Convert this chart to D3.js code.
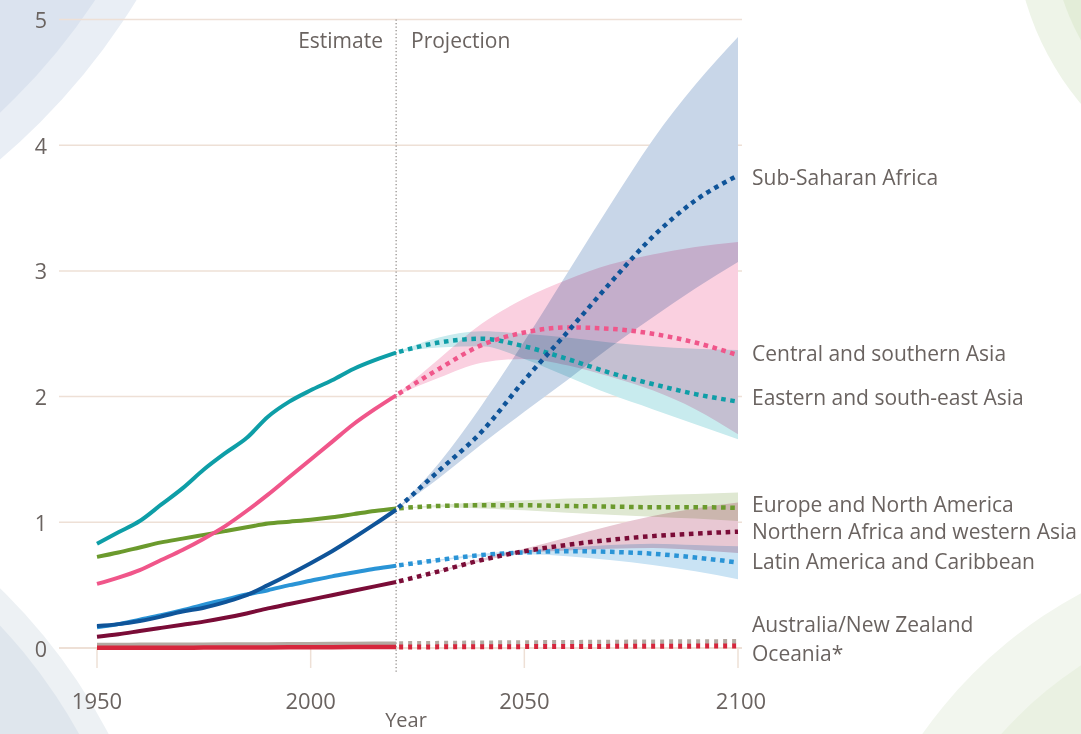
<!DOCTYPE html>
<html>
<head>
<meta charset="utf-8">
<script src="https://cdn.jsdelivr.net/npm/d3@7"></script>
<style>
  html, body { margin: 0; padding: 0; background: #ffffff; }
  svg { display: block; }
  text { font-family: "Open Sans", "DejaVu Sans", sans-serif; fill: #6a6360; }
  .band { mix-blend-mode: multiply; }
</style>
</head>
<body>
<svg id="chart" width="1081" height="734"></svg>
<script>
// ---------------- DATA ----------------
const yearsHist = [1950,1955,1960,1965,1970,1975,1980,1985,1990,1995,2000,2005,2010,2015,2020];
const yearsProj = [2020,2030,2040,2050,2060,2070,2080,2090,2100];
const xTicks = [1950, 2000, 2050, 2100];
const yTicks = [0, 1, 2, 3, 4, 5];
const splitYear = 2020;

const regionNames = [
  "Sub-Saharan Africa",
  "Central and southern Asia",
  "Eastern and south-east Asia",
  "Europe and North America",
  "Northern Africa and western Asia",
  "Latin America and Caribbean",
  "Australia/New Zealand",
  "Oceania*"
];

// population, billions (estimates)
const histSSA   = [0.175,0.19,0.215,0.25,0.29,0.32,0.365,0.42,0.50,0.585,0.675,0.77,0.875,0.985,1.10];
const histCSA   = [0.51,0.56,0.62,0.70,0.78,0.87,0.97,1.09,1.22,1.36,1.50,1.64,1.78,1.90,2.01];
const histESEA  = [0.83,0.92,1.01,1.14,1.27,1.42,1.55,1.67,1.84,1.96,2.05,2.13,2.22,2.29,2.35];
const histEUNA  = [0.725,0.76,0.80,0.84,0.87,0.90,0.93,0.96,0.99,1.005,1.02,1.04,1.065,1.09,1.11];
const histNAWA  = [0.09,0.11,0.135,0.16,0.185,0.21,0.24,0.275,0.315,0.35,0.385,0.42,0.455,0.49,0.525];
const histLAC   = [0.165,0.19,0.225,0.26,0.30,0.345,0.385,0.425,0.46,0.50,0.535,0.57,0.60,0.63,0.655];
const histANZ   = [0.024,0.024,0.025,0.025,0.026,0.026,0.027,0.027,0.028,0.029,0.030,0.031,0.032,0.033,0.034];
const histOCE   = [0.001,0.001,0.002,0.002,0.002,0.003,0.003,0.004,0.004,0.005,0.005,0.006,0.007,0.007,0.008];

// projections (median), billions
const projSSA   = [1.10,1.41,1.72,2.13,2.51,2.90,3.27,3.56,3.76];
const projCSA   = [2.01,2.22,2.41,2.51,2.55,2.54,2.50,2.43,2.33];
const projESEA  = [2.35,2.43,2.46,2.40,2.30,2.19,2.10,2.02,1.96];
const projEUNA  = [1.11,1.13,1.135,1.135,1.13,1.125,1.12,1.12,1.115];
const projNAWA  = [0.525,0.61,0.70,0.77,0.82,0.86,0.89,0.91,0.925];
const projLAC   = [0.655,0.70,0.74,0.76,0.77,0.765,0.75,0.72,0.68];
const projANZ   = [0.034,0.037,0.040,0.042,0.044,0.046,0.048,0.050,0.051];
const projOCE   = [0.008,0.009,0.010,0.011,0.012,0.013,0.014,0.015,0.016];

// prediction interval, upper / lower
const upSSA  = [1.10,1.47,1.93,2.44,2.98,3.52,4.04,4.48,4.86];
const loSSA  = [1.10,1.35,1.62,1.88,2.13,2.39,2.63,2.86,3.07];
const upCSA  = [2.01,2.30,2.58,2.78,2.93,3.05,3.13,3.19,3.23];
const loCSA  = [2.01,2.15,2.27,2.30,2.25,2.16,2.05,1.90,1.70];
const upESEA = [2.35,2.47,2.52,2.50,2.47,2.43,2.40,2.38,2.37];
const loESEA = [2.35,2.39,2.40,2.30,2.16,2.02,1.90,1.78,1.66];
const upEUNA = [1.11,1.14,1.16,1.175,1.19,1.20,1.215,1.225,1.237];
const loEUNA = [1.11,1.12,1.11,1.095,1.075,1.06,1.045,1.03,1.01];
const upNAWA = [0.525,0.615,0.71,0.79,0.88,0.97,1.05,1.11,1.157];
const loNAWA = [0.525,0.605,0.69,0.755,0.775,0.79,0.795,0.78,0.755];
const upLAC  = [0.655,0.705,0.75,0.775,0.80,0.82,0.83,0.82,0.81];
const loLAC  = [0.655,0.695,0.73,0.745,0.73,0.70,0.66,0.61,0.547];

// ---------------- STYLE ----------------
const lineColors = ["#0f5499","#f0568a","#0e9ea7","#6b9a2d","#7a0c37","#2a94d6","#b3a9a1","#d6263c"];
const bandColors = ["#c8d6e8","#fad0e0","#c8ebee","#dfe8d2","#e8c8d3","#c9e3f4"];
const labelY = [185, 361, 405, 511.5, 539, 569, 631.5, 660.5];

const series = [
  {hist: histSSA,  proj: projSSA,  up: upSSA,  lo: loSSA},
  {hist: histCSA,  proj: projCSA,  up: upCSA,  lo: loCSA},
  {hist: histESEA, proj: projESEA, up: upESEA, lo: loESEA},
  {hist: histEUNA, proj: projEUNA, up: upEUNA, lo: loEUNA},
  {hist: histNAWA, proj: projNAWA, up: upNAWA, lo: loNAWA},
  {hist: histLAC,  proj: projLAC,  up: upLAC,  lo: loLAC},
  {hist: histANZ,  proj: projANZ},
  {hist: histOCE,  proj: projOCE}
].map((s, i) => Object.assign(s, {name: regionNames[i], color: lineColors[i], band: bandColors[i], ly: labelY[i]}));

// ---------------- CHART ----------------
const svg = d3.select("#chart");
const W = 1081, H = 734;

// decorative background arcs
const bg = svg.append("g");
bg.append("rect").attr("width", W).attr("height", H).attr("fill", "#ffffff");
bg.append("circle").attr("cx", -429).attr("cy", -346).attr("r", 663).attr("fill", "#e9eef5");
bg.append("circle").attr("cx", -429).attr("cy", -346).attr("r", 628).attr("fill", "#dbe3ef");
bg.append("circle").attr("cx", -400).attr("cy", 1000).attr("r", 574).attr("fill", "#edf1f4");
bg.append("circle").attr("cx", -400).attr("cy", 1000).attr("r", 548).attr("fill", "#dfe6ed");
bg.append("circle").attr("cx", 1300).attr("cy", -80).attr("r", 286).attr("fill", "#eef4e8");
bg.append("circle").attr("cx", 1300).attr("cy", -80).attr("r", 250).attr("fill", "#e3edd8");
bg.append("circle").attr("cx", 1300).attr("cy", 1000).attr("r", 462).attr("fill", "#f2f6ee");
bg.append("circle").attr("cx", 1300).attr("cy", 1000).attr("r", 400).attr("fill", "#eaf1e2");

const x = d3.scaleLinear().domain([1950, 2100]).range([97, 738]);
const y = d3.scaleLinear().domain([0, 5]).range([648, 19.5]);

// gridlines
const grid = svg.append("g");
grid.selectAll("line.grid").data(yTicks).join("line")
  .attr("x1", 59).attr("x2", 742)
  .attr("y1", d => y(d)).attr("y2", d => y(d))
  .attr("stroke", "#eee0d6").attr("stroke-width", d => d === 0 ? 2 : 1.5);

// y tick labels
svg.append("g").selectAll("text").data(yTicks).join("text")
  .attr("x", 47).attr("y", d => y(d) + 8.5)
  .attr("text-anchor", "end").attr("font-size", 21.5)
  .text(d => d);

// x ticks
svg.append("g").selectAll("line").data(xTicks).join("line")
  .attr("x1", d => x(d)).attr("x2", d => x(d))
  .attr("y1", y(0)).attr("y2", 668)
  .attr("stroke", "#eee0d6").attr("stroke-width", 1.5);
svg.append("g").selectAll("text").data(xTicks).join("text")
  .attr("x", d => x(d) + (d === 2100 ? 3 : 0)).attr("y", 709)
  .attr("text-anchor", "middle").attr("font-size", 22)
  .text(d => d);
svg.append("text").attr("x", 406).attr("y", 727)
  .attr("text-anchor", "middle").attr("font-size", 20).text("Year");

// bands
const area = d3.area()
  .x((d, i) => x(yearsProj[i]))
  .y0(d => y(d[0])).y1(d => y(d[1]))
  .curve(d3.curveMonotoneX);
const bandG = svg.append("g").style("isolation", "isolate");
series.filter(s => s.up).forEach(s => {
  const data = s.up.map((u, i) => [s.lo[i], u]);
  bandG.append("path").attr("class", "band")
    .attr("d", area(data)).attr("fill", s.band);
});

// estimate/projection divider
svg.append("line")
  .attr("x1", x(splitYear)).attr("x2", x(splitYear))
  .attr("y1", y(5)).attr("y2", 673)
  .attr("stroke", "#8c8784").attr("stroke-width", 1.2)
  .attr("stroke-dasharray", "1.3,2.2");
svg.append("text").attr("x", 383).attr("y", 47.5).attr("text-anchor", "end")
  .attr("font-size", 21).text("Estimate");
svg.append("text").attr("x", 411).attr("y", 47.5).attr("text-anchor", "start")
  .attr("font-size", 21).text("Projection");

// lines
const lineH = d3.line().x((d, i) => x(yearsHist[i])).y(d => y(d)).curve(d3.curveMonotoneX);
const lineP = d3.line().x((d, i) => x(yearsProj[i])).y(d => y(d)).curve(d3.curveMonotoneX);
const drawOrder = [6, 7, 5, 4, 3, 2, 1, 0];
const lg = svg.append("g").attr("fill", "none");
drawOrder.forEach(k => {
  const s = series[k];
  const small = k >= 6;
  lg.append("path").attr("d", lineH(s.hist))
    .attr("stroke", s.color).attr("stroke-width", small ? 4.5 : 4)
    .attr("stroke-linecap", "butt");
  lg.append("path").attr("d", lineP(s.proj))
    .attr("stroke", s.color).attr("stroke-width", small ? 5 : 4.5)
    .attr("stroke-dasharray", small ? "4,5" : "4.6,4.6")
    .attr("stroke-dashoffset", -3);
});

// labels
svg.append("g").selectAll("text").data(series).join("text")
  .attr("x", 752).attr("y", d => d.ly)
  .attr("font-size", 21)
  .text(d => d.name);
</script>
</body>
</html>
